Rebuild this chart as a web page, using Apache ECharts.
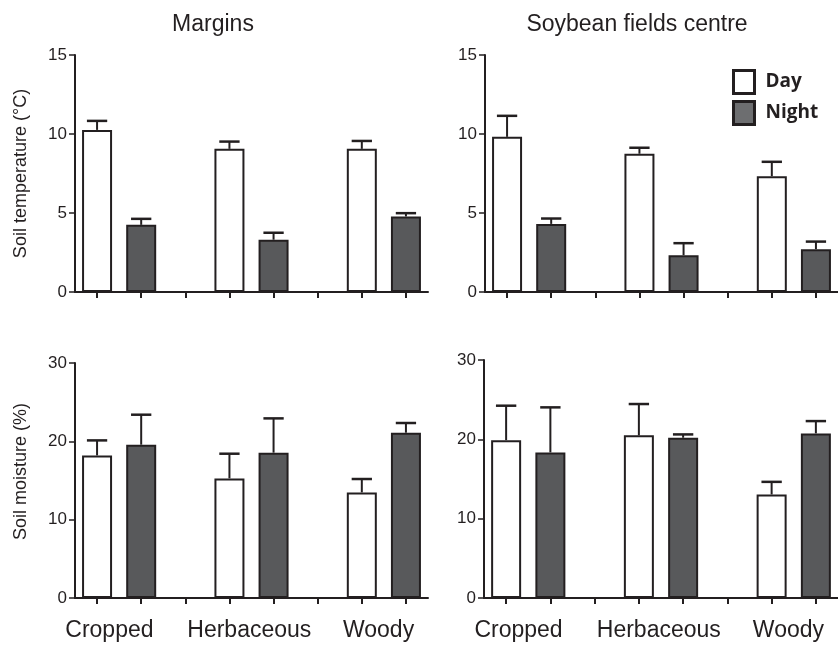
<!DOCTYPE html>
<html>
<head>
<meta charset="utf-8">
<script src="https://cdn.jsdelivr.net/npm/echarts@6/dist/echarts.min.js"></script>
<style>
  html, body { margin: 0; padding: 0; background: #fff; }
  #chart { width: 838px; height: 646px; }
</style>
</head>
<body>
<div id="chart"></div>
<script>
// groups along the x axis, each with a Day and a Night bar
const groups = ['Cropped', 'Herbaceous', 'Woody'];
const panelTitles = ['Margins', 'Soybean fields centre'];
const tempTicks = [0, 5, 10, 15];
const moistTicks = [0, 10, 20, 30];

// soil temperature (°C), mean and upper SE
const marginsTempDay = [10.26, 9.06, 9.06];
const marginsTempDayErr = [0.57, 0.46, 0.5];
const marginsTempNight = [4.25, 3.31, 4.78];
const marginsTempNightErr = [0.38, 0.44, 0.21];
const centreTempDay = [9.82, 8.75, 7.33];
const centreTempDayErr = [1.33, 0.38, 0.91];
const centreTempNight = [4.31, 2.33, 2.71];
const centreTempNightErr = [0.34, 0.76, 0.48];

// soil moisture (%)
const marginsMoistDay = [18.2, 15.27, 13.48];
const marginsMoistDayErr = [1.92, 3.15, 1.71];
const marginsMoistNight = [19.57, 18.55, 21.1];
const marginsMoistNightErr = [3.83, 4.38, 1.24];
const centreMoistDay = [19.9, 20.5, 13.05];
const centreMoistDayErr = [4.34, 3.95, 1.59];
const centreMoistNight = [18.35, 20.2, 20.75];
const centreMoistNightErr = [5.68, 0.42, 1.55];

const ink = '#231f20';
const nightFill = '#58595b';
const font = '"Liberation Sans", Arial, sans-serif';

// 8 slots: day, night, gap, day, night, gap, day, night
const slots = [];
groups.forEach((g, i) => {
  slots.push(g + ' Day', g + ' Night');
  if (i < groups.length - 1) slots.push('');
});
const slotOf = (gi, night) => gi * 3 + (night ? 1 : 0);
// where the group names sit on the 0..8 label axis
const groupLabelPos = [0.78, 3.95, 6.88];

const grids = [
  { left: 75, top: 55, width: 353, height: 237 },
  { left: 485, top: 55, width: 357, height: 237 },
  { left: 75, top: 363, width: 353, height: 235 },
  { left: 484, top: 360, width: 357, height: 238 },
];

const panels = [
  { day: marginsTempDay, dayErr: marginsTempDayErr, night: marginsTempNight, nightErr: marginsTempNightErr, ticks: tempTicks, name: 'Soil temperature (°C)', namePad: [0, 0, 0, 0] },
  { day: centreTempDay, dayErr: centreTempDayErr, night: centreTempNight, nightErr: centreTempNightErr, ticks: tempTicks, name: '', namePad: [0, 0, 0, 0] },
  { day: marginsMoistDay, dayErr: marginsMoistDayErr, night: marginsMoistNight, nightErr: marginsMoistNightErr, ticks: moistTicks, name: 'Soil moisture (%)', namePad: [0, 0, 0, 18] },
  { day: centreMoistDay, dayErr: centreMoistDayErr, night: centreMoistNight, nightErr: centreMoistNightErr, ticks: moistTicks, name: '', namePad: [0, 0, 0, 0] },
];

const barData = (values, night) => {
  const out = slots.map(() => '-');
  values.forEach((v, gi) => { out[slotOf(gi, night)] = v; });
  return out;
};

const errData = (p) => {
  const out = [];
  groups.forEach((g, gi) => {
    out.push([slotOf(gi, false), p.day[gi], p.dayErr[gi]]);
    out.push([slotOf(gi, true), p.night[gi], p.nightErr[gi]]);
  });
  return out;
};

const renderErrorBar = (params, api) => {
  const x = api.value(0);
  const v = api.value(1);
  const e = api.value(2);
  const base = api.coord([x, v]);
  const top = api.coord([x, v + e]);
  const half = api.size([1, 0])[0] * 0.23;
  return {
    type: 'group',
    children: [
      { type: 'line', shape: { x1: base[0], y1: base[1], x2: top[0], y2: top[1] }, style: { stroke: ink, lineWidth: 2 } },
      { type: 'line', shape: { x1: top[0] - half, y1: top[1], x2: top[0] + half, y2: top[1] }, style: { stroke: ink, lineWidth: 2.5 } },
    ],
  };
};

const xAxis = [];
const yAxis = [];
const series = [];

panels.forEach((p, i) => {
  xAxis.push({
    type: 'category',
    gridIndex: i,
    data: slots,
    axisLine: { lineStyle: { color: ink, width: 2 } },
    axisTick: { show: true, alignWithLabel: true, interval: 0, length: 6, lineStyle: { color: ink, width: 2 } },
    axisLabel: { show: false },
  });
  const step = p.ticks[1] - p.ticks[0];
  yAxis.push({
    type: 'value',
    gridIndex: i,
    min: p.ticks[0],
    max: p.ticks[p.ticks.length - 1],
    interval: step,
    name: p.name,
    nameLocation: 'middle',
    nameGap: 45,
    nameTextStyle: { color: ink, fontSize: 18, fontFamily: font, padding: p.namePad },
    axisLine: { show: true, lineStyle: { color: ink, width: 2 } },
    axisTick: { show: true, length: 6, lineStyle: { color: ink, width: 1.5 } },
    axisLabel: { color: ink, fontSize: 17, fontFamily: font, margin: 8 },
    splitLine: { show: false },
  });
  series.push({
    name: 'Day',
    type: 'bar',
    xAxisIndex: i,
    yAxisIndex: i,
    data: barData(p.day, false),
    barWidth: 30,
    barGap: '-100%',
    itemStyle: { color: '#ffffff', borderColor: ink, borderWidth: 2 },
    emphasis: { disabled: true },
  });
  series.push({
    name: 'Night',
    type: 'bar',
    xAxisIndex: i,
    yAxisIndex: i,
    data: barData(p.night, true),
    barWidth: 30,
    barGap: '-100%',
    itemStyle: { color: nightFill, borderColor: ink, borderWidth: 2 },
    emphasis: { disabled: true },
  });
  series.push({
    type: 'custom',
    xAxisIndex: i,
    yAxisIndex: i,
    data: errData(p),
    renderItem: renderErrorBar,
    z: 5,
    silent: true,
  });
});

// group names under the bottom panels, on a plain 0..8 axis
[2, 3].forEach((gi) => {
  xAxis.push({
    type: 'value',
    gridIndex: gi,
    min: 0,
    max: 8,
    position: 'bottom',
    axisLine: { show: false },
    axisTick: { show: false },
    splitLine: { show: false },
    axisLabel: {
      customValues: groupLabelPos,
      formatter: (v) => groups[groupLabelPos.indexOf(v)] || '',
      color: ink,
      fontSize: 23,
      fontFamily: font,
      margin: 21,
      showMinLabel: true,
      showMaxLabel: true,
    },
  });
});

const chart = echarts.init(document.getElementById('chart'), null, { renderer: 'canvas' });
chart.setOption({
  animation: false,
  backgroundColor: '#ffffff',
  title: [
    { text: panelTitles[0], left: 213, top: 13, textAlign: 'center', padding: 0, textStyle: { color: ink, fontSize: 23, fontWeight: 'normal', fontFamily: font } },
    { text: panelTitles[1], left: 637, top: 13, textAlign: 'center', padding: 0, textStyle: { color: ink, fontSize: 23, fontWeight: 'normal', fontFamily: font } },
  ],
  legend: {
    orient: 'vertical',
    left: 732,
    top: 69,
    padding: 0,
    itemWidth: 21,
    itemHeight: 23,
    itemGap: 5,
    selectedMode: false,
    data: [
      { name: 'Day', icon: 'rect', itemStyle: { color: '#ffffff', borderColor: ink, borderWidth: 3 } },
      { name: 'Night', icon: 'rect', itemStyle: { color: '#6d6e70', borderColor: ink, borderWidth: 3 } },
    ],
    textStyle: { color: ink, fontSize: 19, fontWeight: 'bold', fontFamily: '"Open Sans", sans-serif', padding: [0, 0, 0, 6] },
  },
  grid: grids,
  xAxis: xAxis,
  yAxis: yAxis,
  series: series,
});
</script>
</body>
</html>
